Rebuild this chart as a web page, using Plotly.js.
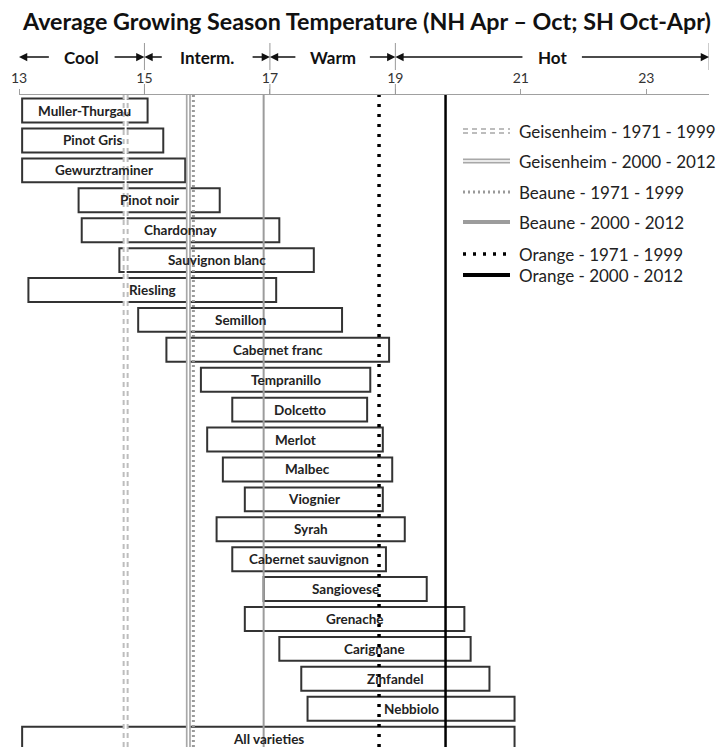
<!DOCTYPE html>
<html>
<head>
<meta charset="utf-8">
<script src="https://cdn.plot.ly/plotly-3.0.1.min.js"></script>
<style>html,body{margin:0;padding:0;background:#fff;}#chart{width:718px;height:747px;}</style>
</head>
<body>
<div id="chart"></div>
<script>
// ---------- DATA ----------
const varieties = ["Muller-Thurgau","Pinot Gris","Gewurztraminer","Pinot noir","Chardonnay","Sauvignon blanc","Riesling","Semillon","Cabernet franc","Tempranillo","Dolcetto","Merlot","Malbec","Viognier","Syrah","Cabernet sauvignon","Sangiovese","Grenache","Carignane","Zinfandel","Nebbiolo","All varieties"];
const rangeLow  = [13.05,13.05,13.05,13.95,14.0,14.6,13.15,14.9,15.35,15.9,16.4,16.0,16.25,16.6,16.15,16.4,16.9,16.6,17.15,17.5,17.6,13.05];
const rangeHigh = [15.05,15.3,15.65,16.2,17.15,17.7,17.1,18.15,18.9,18.6,18.55,18.8,18.95,18.8,19.15,18.85,19.5,20.1,20.2,20.5,20.9,20.9];

const refNames  = ["Geisenheim - 1971 - 1999","Geisenheim - 2000 - 2012","Beaune - 1971 - 1999","Beaune - 2000 - 2012","Orange - 1971 - 1999","Orange - 2000 - 2012"];
const refValues = [14.7, 15.7, 15.78, 16.9, 18.74, 19.8];

const zoneNames  = ["Cool","Interm.","Warm","Hot"];
const zoneBounds = [13, 15, 17, 19, 24];

const tickValues = [13, 15, 17, 19, 21, 23];
const tickLabels = ["13","15","17","19","21","23"];

// ---------- STYLES ----------
// each reference line is drawn as one or more stacked layers
const refStyles = [
  [{color:"#bdbdbd", width:6, dash:"5px,4px"}, {color:"#ffffff", width:2, dash:"solid"}],
  [{color:"#a8a8a8", width:5, dash:"solid"},   {color:"#ffffff", width:1.6, dash:"solid"}],
  [{color:"#9a9a9a", width:3, dash:"2px,3px"}],
  [{color:"#9c9c9c", width:2, dash:"solid"}],
  [{color:"#000000", width:3.5, dash:"3px,7px"}],
  [{color:"#000000", width:2.5, dash:"solid"}]
];
const legendWidths = [6, 5, 3, 4, 3.5, 4];
const legendRowPx = [131, 161, 192, 222, 254, 275];
const zoneGap = [0.5, 0.7, 0.57, 0.45];

const FONT = "Lato, 'Open Sans', sans-serif";
const PLOT_TOP = 95, PLOT_H = 747 - 95, PLOT_L = 19, PLOT_W = 690;
const pyToPaper = py => 1 - (py - PLOT_TOP) / PLOT_H;
const pxToPaper = px => (px - PLOT_L) / PLOT_W;

// ---------- TRACES ----------
const traces = [];
traces.push({
  type: "bar", orientation: "h",
  y: varieties,
  base: rangeLow,
  x: rangeHigh.map((h, i) => h - rangeLow[i]),
  width: 0.8,
  marker: {color: "#ffffff", line: {color: "#333333", width: 2}},
  hoverinfo: "skip", showlegend: false
});

refValues.forEach((v, i) => {
  refStyles[i].forEach(st => {
    traces.push({
      type: "scatter", mode: "lines",
      x: [v, v], y: [0, 1], yaxis: "y2",
      line: {color: st.color, width: st.width, dash: st.dash},
      name: refNames[i], showlegend: false, hoverinfo: "skip"
    });
  });
});

// ---------- ANNOTATIONS ----------
const annotations = [];
varieties.forEach((name, i) => {
  annotations.push({
    x: (rangeLow[i] + rangeHigh[i]) / 2, y: name, xref: "x", yref: "y",
    text: name, showarrow: false,
    font: {family: FONT, size: 13.5, color: "#222", weight: "bold"}
  });
});

const zoneY = pyToPaper(57);
zoneNames.forEach((z, i) => {
  const lo = zoneBounds[i], hi = zoneBounds[i + 1];
  const c = (lo + hi) / 2;
  annotations.push({
    x: c, y: zoneY, xref: "x", yref: "paper", yanchor: "middle", xanchor: "center",
    text: z, showarrow: false,
    font: {family: FONT, size: 17, color: "#111", weight: "bold"}
  });
  [[lo, c - zoneGap[i]], [hi, c + zoneGap[i]]].forEach(([head, tail]) => {
    annotations.push({
      x: head, y: zoneY, xref: "x", yref: "paper",
      ax: tail, ay: zoneY, axref: "x", ayref: "paper",
      text: "", showarrow: true, arrowhead: 2, arrowsize: 1.1,
      arrowwidth: 1.5, arrowcolor: "#111", standoff: 0, startstandoff: 0
    });
  });
});

// custom legend (text)
refNames.forEach((n, i) => {
  annotations.push({
    x: pxToPaper(517), y: pyToPaper(legendRowPx[i]), xref: "paper", yref: "paper",
    xanchor: "left", yanchor: "middle", text: n, showarrow: false,
    font: {family: FONT, size: 17, color: "#222"}
  });
});

// ---------- SHAPES ----------
const shapes = [];
// zone separators
zoneBounds.slice(1).forEach(b => {
  shapes.push({type: "line", xref: "x", yref: "paper", x0: b, x1: b,
    y0: pyToPaper(43), y1: pyToPaper(70), line: {color: "#999", width: 1}});
  if (b < 24) shapes.push({type: "line", xref: "x", yref: "paper", x0: b, x1: b,
    y0: pyToPaper(84), y1: pyToPaper(95), line: {color: "#999", width: 1}});
});
// legend symbols
refStyles.forEach((layers, i) => {
  layers.forEach((st, k) => {
    shapes.push({type: "line", xref: "paper", yref: "paper",
      x0: pxToPaper(463), x1: pxToPaper(510),
      y0: pyToPaper(legendRowPx[i]), y1: pyToPaper(legendRowPx[i]),
      line: {color: st.color, width: k === 0 ? legendWidths[i] : st.width, dash: st.dash}});
  });
});

const layout = {
  width: 718, height: 747,
  margin: {l: PLOT_L, r: 718 - PLOT_L - PLOT_W, t: PLOT_TOP, b: 0, pad: 0},
  paper_bgcolor: "#fff", plot_bgcolor: "#fff",
  barmode: "overlay",
  showlegend: false,
  title: {
    text: "Average Growing Season Temperature (NH Apr – Oct; SH Oct-Apr)",
    x: 0.511, xanchor: "center", xref: "container",
    y: 1 - 22 / 747, yanchor: "middle", yref: "container",
    font: {family: FONT, size: 23.3, color: "#111", weight: "bold"}
  },
  xaxis: {
    range: [13, 24], side: "top",
    tickmode: "array", tickvals: tickValues, ticktext: tickLabels,
    ticks: "outside", ticklen: 5, tickcolor: "#a0a0a0", tickwidth: 1,
    showline: true, linecolor: "#a0a0a0", linewidth: 1,
    showgrid: false, zeroline: false,
    tickfont: {family: FONT, size: 14, color: "#333"},
    fixedrange: true
  },
  yaxis: {
    type: "category", categoryorder: "array", categoryarray: varieties,
    range: [21.28, -0.52],
    showticklabels: false, ticks: "", showgrid: false, zeroline: false, showline: false,
    fixedrange: true
  },
  yaxis2: {
    overlaying: "y", range: [0, 1], visible: false, fixedrange: true
  },
  annotations: annotations,
  shapes: shapes
};

Plotly.newPlot("chart", traces, layout, {displayModeBar: false, staticPlot: true});
</script>
</body>
</html>
